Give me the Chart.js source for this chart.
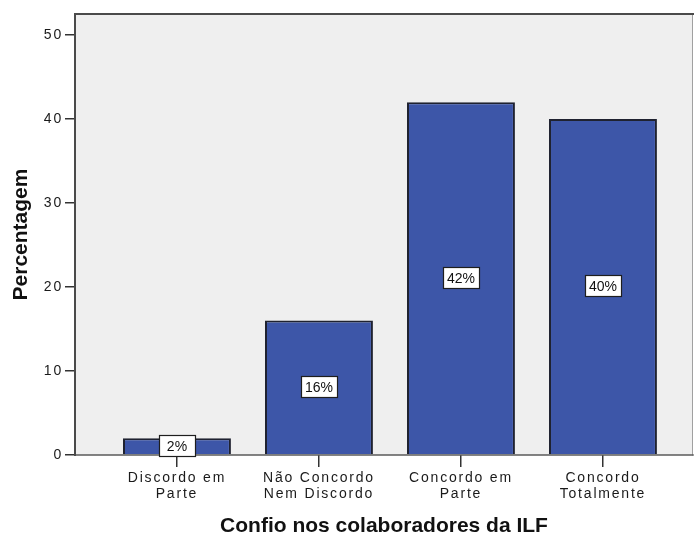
<!DOCTYPE html>
<html>
<head>
<meta charset="utf-8">
<script src="https://cdn.jsdelivr.net/npm/chart.js@4/dist/chart.umd.min.js"></script>
<style>
  html, body { margin: 0; padding: 0; background: #ffffff; }
  canvas { display: block; }
</style>
</head>
<body>
<canvas id="chart" width="694" height="542"></canvas>
<script>
// Response categories (two-line labels) and share of answers, in percent
const categories = [
  ['Discordo em', 'Parte'],
  ['Não Concordo', 'Nem Discordo'],
  ['Concordo em', 'Parte'],
  ['Concordo', 'Totalmente']
];
const percentages = [2, 16, 42, 40];
const yTickValues = [0, 10, 20, 30, 40, 50];
const xAxisTitle = 'Confio nos colaboradores da ILF';
const yAxisTitle = 'Percentagem';

const FONT = 'Liberation Sans';

// Tick labels are drawn with a little extra letter spacing
const spacedTickLabels = {
  id: 'spacedTickLabels',
  beforeDraw(chart) {
    ['x', 'y'].forEach(id => {
      const scale = chart.scales[id];
      if (scale && !scale._spacedLabels) {
        const original = scale.drawLabels;
        scale.drawLabels = function (area) {
          const ctx = this.ctx;
          ctx.save();
          ctx.letterSpacing = '1.8px';
          original.call(this, area);
          ctx.restore();
        };
        scale._spacedLabels = true;
      }
    });
  }
};

// Grey plot panel with its frame
const plotPanel = {
  id: 'plotPanel',
  beforeDraw(chart) {
    const { ctx, chartArea: a } = chart;
    ctx.save();
    ctx.fillStyle = '#efefef';
    ctx.fillRect(a.left, a.top, a.right - a.left, a.bottom - a.top);
    ctx.restore();
  },
  afterDatasetsDraw(chart) {
    const { ctx, chartArea: a } = chart;
    ctx.save();
    ctx.lineCap = 'square';
    // right edge, lighter
    ctx.strokeStyle = '#a0a0a0';
    ctx.lineWidth = 1;
    ctx.beginPath();
    ctx.moveTo(a.right - 0.5, a.top);
    ctx.lineTo(a.right - 0.5, a.bottom);
    ctx.stroke();
    // bottom axis line
    ctx.strokeStyle = '#5a5a5a';
    ctx.lineWidth = 1.5;
    ctx.beginPath();
    ctx.moveTo(a.left, a.bottom);
    ctx.lineTo(a.right, a.bottom);
    ctx.stroke();
    // top and left edges
    ctx.strokeStyle = '#4a4a4a';
    ctx.lineWidth = 2;
    ctx.beginPath();
    ctx.moveTo(a.left, a.bottom);
    ctx.lineTo(a.left, a.top);
    ctx.lineTo(a.right, a.top);
    ctx.stroke();
    ctx.restore();
  }
};

// Boxed percentage label in the middle of every bar
const valueBoxes = {
  id: 'valueBoxes',
  afterDatasetsDraw(chart) {
    const { ctx } = chart;
    const meta = chart.getDatasetMeta(0);
    const values = chart.data.datasets[0].data;
    ctx.save();
    ctx.font = '14px "' + FONT + '"';
    ctx.textAlign = 'center';
    ctx.textBaseline = 'middle';
    meta.data.forEach((bar, i) => {
      const text = values[i].y + '%';
      const cx = bar.x;
      const cy = (bar.y + bar.base) / 2;
      const w = 36, h = 21;
      const x0 = Math.round(cx - w / 2) + 0.5;
      const y0 = Math.round(cy - h / 2) - 0.5;
      ctx.fillStyle = '#ffffff';
      ctx.fillRect(x0, y0, w, h);
      ctx.strokeStyle = '#1e1e1e';
      ctx.lineWidth = 1.2;
      ctx.strokeRect(x0, y0, w, h);
      ctx.fillStyle = '#111111';
      ctx.fillText(text, cx, cy + 0.5);
    });
    ctx.restore();
  }
};

new Chart(document.getElementById('chart'), {
  type: 'bar',
  data: {
    datasets: [{
      data: percentages.map((v, i) => ({ x: i, y: v })),
      backgroundColor: '#3d56a8',
      borderColor: '#1f2230',
      borderWidth: 2,
      categoryPercentage: 1,
      barPercentage: 0.76
    }]
  },
  options: {
    responsive: false,
    animation: false,
    devicePixelRatio: 1,
    layout: { padding: { top: 14, right: 1, left: 0, bottom: 0 } },
    plugins: {
      legend: { display: false },
      tooltip: { enabled: false }
    },
    scales: {
      x: {
        type: 'linear',
        offset: false,
        min: -0.718,
        max: 3.634,
        afterBuildTicks: s => { s.ticks = categories.map((_, i) => ({ value: i })); },
        afterFit: s => { s.height = 87; },
        ticks: {
          callback: v => categories[v],
          font: { family: FONT, size: 14, lineHeight: 1.15 },
          color: '#1a1a1a',
          padding: 3,
          maxRotation: 0,
          autoSkip: false
        },
        grid: { offset: false, drawOnChartArea: false, tickLength: 12, color: '#333333', lineWidth: 1.5 },
        border: { display: false },
        title: {
          display: true,
          text: xAxisTitle,
          font: { family: FONT, size: 21, weight: 'bold' },
          color: '#111111',
          padding: { top: 0, bottom: 3 }
        }
      },
      y: {
        min: 0,
        max: 52.5,
        afterBuildTicks: s => { s.ticks = yTickValues.map(v => ({ value: v })); },
        afterFit: s => { s.width = 75; },
        ticks: {
          font: { family: FONT, size: 14 },
          color: '#1a1a1a',
          padding: 2
        },
        grid: { drawOnChartArea: false, tickLength: 10, color: '#333333', lineWidth: 1.5 },
        border: { display: false },
        title: {
          display: true,
          text: yAxisTitle,
          font: { family: FONT, size: 21, weight: 'bold' },
          color: '#111111',
          padding: { top: 9, bottom: 0 }
        }
      }
    }
  },
  plugins: [spacedTickLabels, plotPanel, valueBoxes]
});
</script>
</body>
</html>
